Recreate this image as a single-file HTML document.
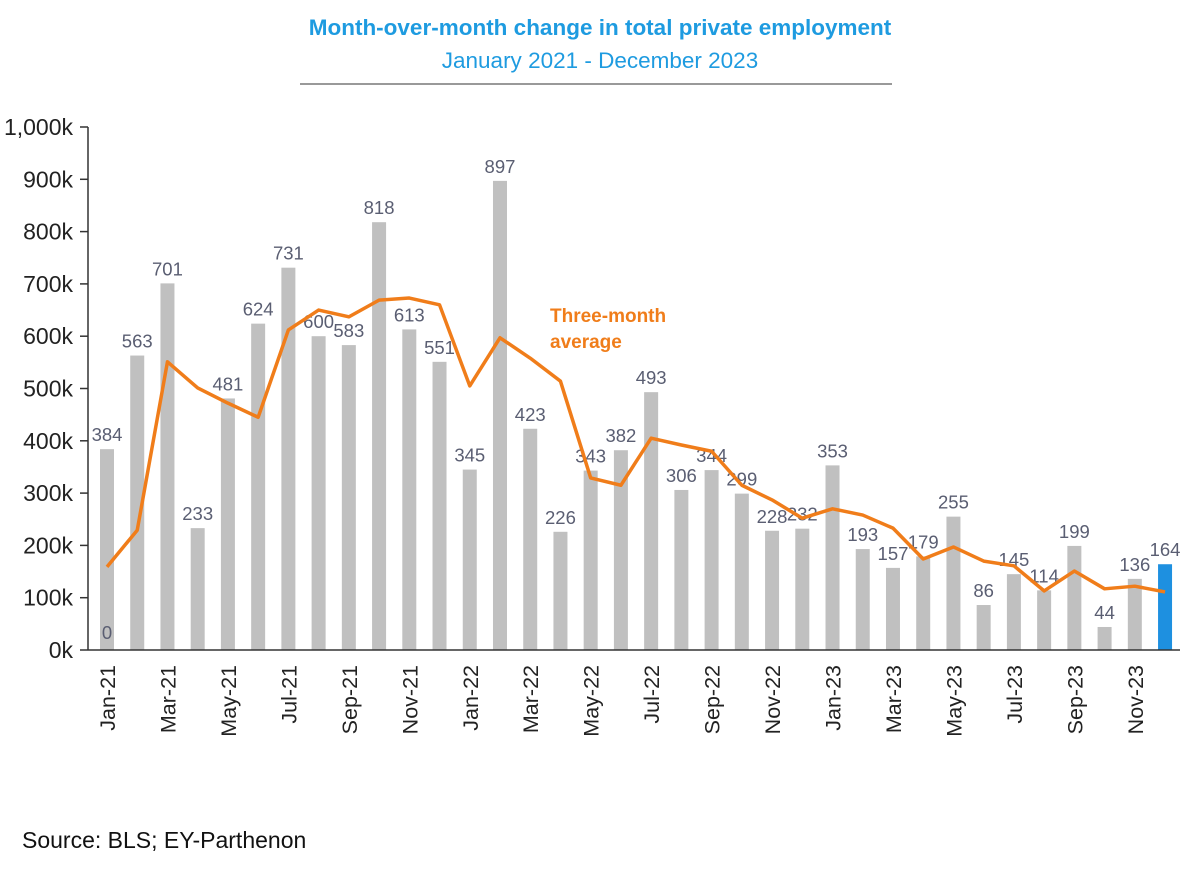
<!DOCTYPE html>
<html><head><meta charset="utf-8"><style>
body{margin:0;background:#fff;width:1200px;height:875px;overflow:hidden;font-family:"Liberation Sans",Arial,sans-serif}
</style></head><body>
<svg id="chart" width="1200" height="875" xmlns="http://www.w3.org/2000/svg">
<text x="600" y="35" text-anchor="middle" font-size="22.5" font-weight="bold" fill="#1e9be0">Month-over-month change in total private employment</text>
<text x="600" y="68" text-anchor="middle" font-size="22.5" fill="#1e9be0">January 2021 - December 2023</text>
<line x1="300" y1="84" x2="892" y2="84" stroke="#333" stroke-width="1"/>
<text x="22" y="848" font-size="23" fill="#111">Source: BLS; EY-Parthenon</text>
<g id="g"></g>
</svg>
<script>
const months=["Jan-21","Feb-21","Mar-21","Apr-21","May-21","Jun-21","Jul-21","Aug-21","Sep-21","Oct-21","Nov-21","Dec-21","Jan-22","Feb-22","Mar-22","Apr-22","May-22","Jun-22","Jul-22","Aug-22","Sep-22","Oct-22","Nov-22","Dec-22","Jan-23","Feb-23","Mar-23","Apr-23","May-23","Jun-23","Jul-23","Aug-23","Sep-23","Oct-23","Nov-23","Dec-23"];
const changes=[384,563,701,233,481,624,731,600,583,818,613,551,345,897,423,226,343,382,493,306,344,299,228,232,353,193,157,179,255,86,145,114,199,44,136,164];
const avg3=[159,229,551,501,472,445,612,650,637,669,673,660,505,597,558,514,329,315,405,392,380,315,287,252,270,258,233,174,197,170,161,113,151,117,122,111];
const yTicks=[0,100,200,300,400,500,600,700,800,900,1000];
const yTickLabels=["0k","100k","200k","300k","400k","500k","600k","700k","800k","900k","1,000k"];
const NS="http://www.w3.org/2000/svg",g=document.getElementById('g');
const y=v=>650-v*0.523, x=i=>107+i*30.23;
function mk(t,a){const e=document.createElementNS(NS,t);for(const k in a)e.setAttribute(k,a[k]);g.appendChild(e);return e;}
yTicks.forEach((v,i)=>{
 const t=mk('line',{x1:80,x2:88,y1:y(v),y2:y(v),stroke:'#333','stroke-width':1.5});
 
 
 const l=mk('text',{x:73,y:y(v)+8,'text-anchor':'end','font-size':23,fill:'#222'});l.textContent=yTickLabels[i];
 
 
});
changes.forEach((v,i)=>{
 const b=mk('rect',{x:x(i)-7,y:y(v),width:14,height:650-y(v),fill:i==changes.length-1?'#1e90e0':'#c0c0c0'});
 
 
 const l=mk('text',{x:x(i),y:y(v)-8,'text-anchor':'middle','font-size':18.5,fill:'#5a5e72'});l.textContent=v;
 
 
 if(i%2==0){const m=mk('text',{transform:`translate(${x(i)+8},665) rotate(-90)`,'text-anchor':'end','font-size':21.5,fill:'#222'});m.textContent=months[i];
 
 }
});
const z=mk('text',{x:x(0),y:639,'text-anchor':'middle','font-size':18.5,fill:'#5a5e72'});z.textContent='0';


const ax=mk('line',{x1:88,x2:88,y1:y(1000),y2:650,stroke:'#333','stroke-width':1.5});


const bx=mk('line',{x1:88,x2:1180,y1:650,y2:650,stroke:'#333','stroke-width':1.5});


const ln=mk('polyline',{points:avg3.map((v,i)=>x(i)+','+y(v)).join(' '),fill:'none',stroke:'#f07d1a','stroke-width':3.5,'stroke-linejoin':'round'});


const a1=mk('text',{x:550,y:322,'font-size':19,'font-weight':'bold',fill:'#f07d1a'});a1.textContent='Three-month';


const a2=mk('text',{x:550,y:348,'font-size':19,'font-weight':'bold',fill:'#f07d1a'});a2.textContent='average';


</script>
</body></html>
